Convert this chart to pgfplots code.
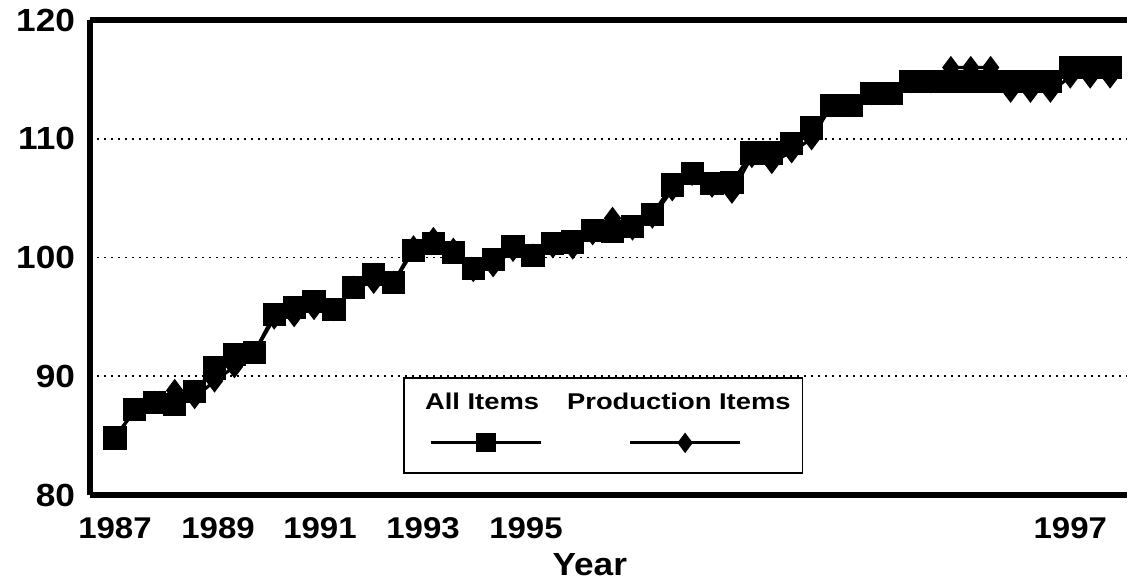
\documentclass[border=0pt]{standalone}
\usepackage{fontspec}
\setmainfont{Liberation Sans}
\newfontfamily\legfont{Liberation Sans}[FakeStretch=1.2]
\newfontfamily\tickfont{Liberation Sans}[FakeStretch=1.1]
\usepackage{pgfplots}
\pgfplotsset{compat=1.18}
\usepackage{pgfplotstable}

\pgfplotstableread{
idx all prod
0 84.8 84.8
1 87.2 87.2
2 87.8 87.8
3 87.6 88.8
4 88.7 88.2
5 90.7 89.6
6 91.8 90.8
7 92.0 92.0
8 95.2 94.9
9 95.8 95.1
10 96.3 95.7
11 95.6 95.6
12 97.5 97.5
13 98.6 97.9
14 97.9 97.9
15 100.6 100.9
16 101.2 101.6
17 100.4 100.7
18 99.1 98.9
19 99.8 99.3
20 100.9 100.6
21 100.2 100.2
22 101.2 100.9
23 101.3 100.8
24 102.3 102.0
25 102.2 103.3
26 102.6 102.4
27 103.6 103.4
28 106.1 105.7
29 107.1 107.0
30 106.2 106.0
31 106.3 105.5
32 108.8 108.5
33 108.8 108.0
34 109.6 108.9
35 110.9 110.0
36 112.8 112.8
37 112.8 112.8
38 113.8 113.8
39 113.8 113.8
40 114.8 114.8
41 114.8 114.8
42 114.8 116.0
43 114.8 116.0
44 114.8 116.0
45 114.8 114.0
46 114.8 114.0
47 114.8 114.0
48 116.0 115.2
49 116.0 115.2
50 116.0 115.2
}\datatable

\pgfplotsset{
  prodimg/.style={legend image code/.code={
    \path[draw=none,fill=none] (0pt,0pt) -- (0pt,-29.5pt);
    \draw[##1, overlay, mark repeat=2, mark phase=2, mark size=3.8pt] plot coordinates {(33.5pt,-20pt) (61pt,-20pt) (88.5pt,-20pt)};
  }},
  allimg/.style={legend image code/.code={
    \path[draw=none,fill=none] (-4.5pt,0pt) -- (0pt,-29.5pt);
    \draw[##1, overlay, mark repeat=2, mark phase=2, mark size=4pt] plot coordinates {(5pt,-20pt) (32.5pt,-20pt) (60pt,-20pt)};
  }},
}

\begin{document}
\begin{tikzpicture}
\begin{axis}[
  scale only axis,
  width=518.5pt, height=237.5pt,
  xmin=-1.256, xmax=50.85,
  ymin=80, ymax=120,
  axis x line*=box,
  axis y line*=left,
  axis line style={line width=2.6pt},
  xtick={0,5.18,10.3,15.48,20.65,48},
  xticklabels={1987,1989,1991,1993,1995,1997},
  ytick={80,90,100,110,120},
  yticklabels={80,90,100,110,120},
  xtick style={draw=none},
  ytick style={draw=none},
  ymajorgrids,
  grid style={black, line width=0.9pt, dash pattern=on 0.9pt off 2.6pt},
  xticklabel style={font=\tickfont\bfseries\fontsize{15}{17}\selectfont, anchor=base, yshift=-21.5pt},
  yticklabel style={font=\tickfont\bfseries\fontsize{16}{18}\selectfont, anchor=east, xshift=-4pt},
  xlabel={Year},
  xlabel style={font=\tickfont\bfseries\fontsize{16}{18}\selectfont, at={(axis description cs:0.482,-0.1705)}, anchor=base},
  legend columns=2,
  reverse legend,
  legend cell align=left,
  legend style={at={(0.302,0.248)}, anchor=north west, draw=black, line width=0.9pt, fill=white,
    inner xsep=4pt, inner ysep=5.5pt,
    font=\legfont\bfseries\fontsize{11.4}{13}\selectfont,
    /tikz/every even column/.append style={column sep=10pt}},
]
\addplot[black, line width=1.6pt, mark=diamond*, mark size=4.5pt, mark options={solid}, prodimg]
  table[x=idx, y=prod] {\datatable};
\addlegendentry{Production Items}
\addplot[black, line width=1.6pt, mark=square*, mark size=5pt, mark options={solid}, allimg]
  table[x=idx, y=all] {\datatable};
\addlegendentry{All Items}
\coordinate (sw) at (rel axis cs:0,0);
\end{axis}
\pgfresetboundingbox
\path[use as bounding box] ([shift={(-45pt,-42.5pt)}]sw) rectangle ([shift={(520.5pt,247.5pt)}]sw);
\end{tikzpicture}
\end{document}
